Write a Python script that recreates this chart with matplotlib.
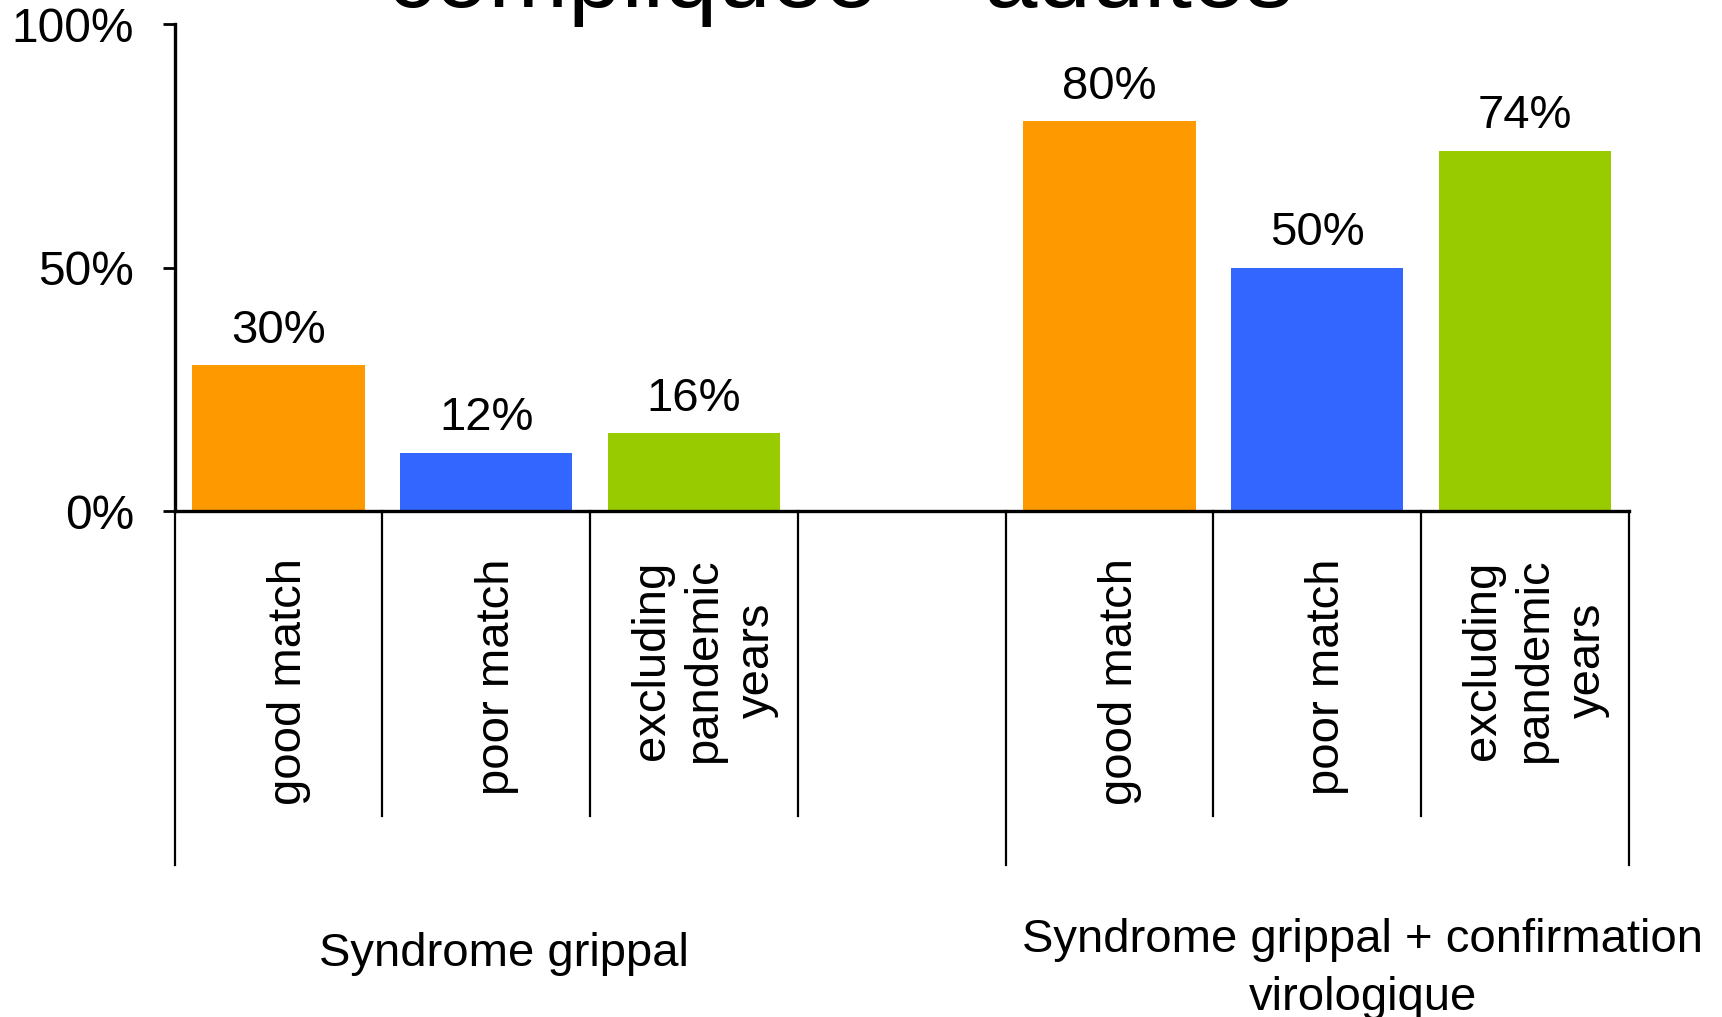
import matplotlib
matplotlib.use('Agg')
import matplotlib.pyplot as plt
from matplotlib.transforms import blended_transform_factory

plt.rcParams['font.family'] = ['Liberation Sans', 'DejaVu Sans']

# data
categories = ['good match', 'poor match', 'excluding\npandemic\nyears']
groups = ['Syndrome grippal', 'Syndrome grippal + confirmation\nvirologique']
values_sg = [30, 12, 16]
values_sgv = [80, 50, 74]
colors = ['#FF9900', '#3366FF', '#99CC00']
title = 'compliquée – adultes'

fig = plt.figure(figsize=(17.22, 10.17), dpi=100)
ax = fig.add_axes([0.1014, 0.4975, 0.8444, 0.4789])

# slots: 3 bars, one empty slot, 3 bars
pos_sg = [0.5, 1.5, 2.5]
pos_sgv = [4.5, 5.5, 6.5]
ax.bar(pos_sg, [v / 100 for v in values_sg], width=0.83, color=colors)
ax.bar(pos_sgv, [v / 100 for v in values_sgv], width=0.83, color=colors)

for x, v in zip(pos_sg + pos_sgv, values_sg + values_sgv):
    ax.annotate(f'{v}%', (x, v / 100), xytext=(0, 16), textcoords='offset points',
                ha='center', va='baseline', fontsize=34)

ax.set_xlim(0, 7)
ax.set_ylim(0, 1)
ax.set_yticks([0, 0.5, 1])
ax.set_yticklabels(['0%', '50%', '100%'], fontsize=34.5)
ax.tick_params(axis='y', length=9, width=2, pad=20)
ax.set_xticks([])
for s in ['top', 'right']:
    ax.spines[s].set_visible(False)
ax.spines['left'].set_linewidth(2.4)
ax.spines['bottom'].set_linewidth(2.4)

# category separators below the axis
for x in [1, 2, 3, 5, 6]:
    ax.plot([x, x], [0, -0.626], color='black', lw=1.6, clip_on=False)
for x in [0, 4, 7]:
    ax.plot([x, x], [0, -0.727], color='black', lw=1.6, clip_on=False)

# category labels
for x, lab in zip(pos_sg + pos_sgv, categories + categories):
    ax.text(x + 0.05, -0.0965, lab, rotation=90, ha='center', va='top', multialignment='center',
            fontsize=34, linespacing=1.25)

# group labels
tr = blended_transform_factory(ax.transData, fig.transFigure)
ax.text(1.587, 1 - 966 / 1017, groups[0], transform=tr, ha='center', va='baseline', fontsize=34)
ax.text(5.72, 1 - 918 / 1017, groups[1], transform=tr, ha='center', va='top', fontsize=34,
        linespacing=1.4)

fig.text(0.488, 1 - 7 / 1017, title, ha='center', va='baseline', fontsize=69)

fig.savefig('out.png', dpi=100)
